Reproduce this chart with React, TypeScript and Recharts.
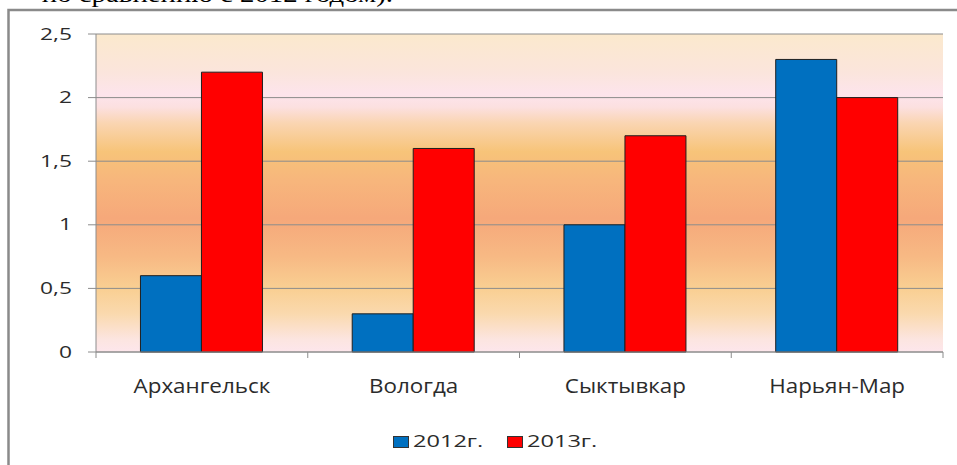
import { Bar, BarChart, CartesianGrid, XAxis, YAxis } from "recharts";

const cities = ["Архангельск", "Вологда", "Сыктывкар", "Нарьян-Мар"];
const values2012 = [0.6, 0.3, 1.0, 2.3];
const values2013 = [2.2, 1.6, 1.7, 2.0];
const seriesNames = ["2012г.", "2013г."];
const seriesColors = ["#0070c0", "#ff0000"];
const yTicks = [0, 0.5, 1, 1.5, 2, 2.5];

const data = cities.map((city, i) => ({ city, s2012: values2012[i], s2013: values2013[i] }));

const FONT = "'Open Sans', sans-serif";
const TEXT = "#2b2b2b";
const LINE = "#8c8c8c";
const PLOT_W = 847;

function YTick({ x, y, payload }: any) {
  return (
    <text transform={`translate(${x},${y + 5.5}) scale(1.47,1)`} textAnchor="end" fontFamily={FONT} fontSize={15.5} fill={TEXT}>
      {String(payload.value).replace(".", ",")}
    </text>
  );
}

function XTick({ x, y, payload, index }: any) {
  const half = payload.offset || PLOT_W / cities.length / 2;
  return (
    <g>
      <line x1={x - half} x2={x - half} y1={y} y2={y + 6} stroke={LINE} />
      {index === cities.length - 1 && <line x1={x + half} x2={x + half} y1={y} y2={y + 6} stroke={LINE} />}
      <text transform={`translate(${x},${y + 41}) scale(1.12,1)`} textAnchor="middle" fontFamily={FONT} fontSize={20} fill={TEXT}>
        {payload.value}
      </text>
    </g>
  );
}

export default function App() {
  return (
    <div style={{ position: "fixed", left: 0, top: 0, width: 957, height: 465, overflow: "hidden", background: "#fff" }}>
      <BarChart width={957} height={465} data={data} margin={{ top: 34, right: 14, left: 36, bottom: 73 }} barCategoryGap="21%" barGap={0}>
        <defs>
          <linearGradient id="plotBg" x1="0" y1="0" x2="0" y2="1">
            <stop offset="0" stopColor="#fbe9cd" />
            <stop offset="0.12" stopColor="#fbe5dc" />
            <stop offset="0.19" stopColor="#fde4ec" />
            <stop offset="0.23" stopColor="#fce0e0" />
            <stop offset="0.28" stopColor="#fad5b2" />
            <stop offset="0.37" stopColor="#f7c479" />
            <stop offset="0.46" stopColor="#f7b67c" />
            <stop offset="0.58" stopColor="#f6a87a" />
            <stop offset="0.7" stopColor="#f7b984" />
            <stop offset="0.8" stopColor="#f9cf92" />
            <stop offset="0.88" stopColor="#fad9ae" />
            <stop offset="0.96" stopColor="#fce5e0" />
            <stop offset="1" stopColor="#fde6ec" />
          </linearGradient>
        </defs>
        <CartesianGrid vertical={false} stroke={LINE} fill="url(#plotBg)" fillOpacity={1} />
        <XAxis dataKey="city" height={40} tickSize={0} tickMargin={0} tickLine={false} axisLine={{ stroke: LINE }} tick={<XTick />} interval={0} />
        <YAxis width={60} domain={[0, 2.5]} ticks={yTicks} tickSize={8} tickMargin={16} tickLine={{ stroke: LINE }} axisLine={{ stroke: LINE }} tick={<YTick />} />
        <Bar dataKey="s2012" name={seriesNames[0]} fill={seriesColors[0]} stroke="#1f1f1f" strokeWidth={1} isAnimationActive={false} />
        <Bar dataKey="s2013" name={seriesNames[1]} fill={seriesColors[1]} stroke="#1f1f1f" strokeWidth={1} isAnimationActive={false} />
      </BarChart>
      <svg width={957} height={465} style={{ position: "absolute", left: 0, top: 0, pointerEvents: "none" }}>
        <text transform="translate(393,2) scale(1.2,1)" textAnchor="end" fontFamily="'Liberation Serif', serif" fontSize={24} fill="#000">
          по сравнению с 2012 годом).
        </text>
        <path d="M8.5 475 V10 H960" fill="none" stroke="#8a8a8a" strokeWidth={2.5} />
        {seriesNames.map((name, i) => {
          const left = i === 0 ? 393 : 507;
          return (
            <g key={name}>
              <rect x={left + 0.5} y={436.5} width={15} height={11} fill={seriesColors[i]} stroke="#333" />
              <text transform={`translate(${left + 20},447) scale(1.52,1)`} fontFamily={FONT} fontSize={15.5} fill={TEXT}>
                {name}
              </text>
            </g>
          );
        })}
      </svg>
    </div>
  );
}
